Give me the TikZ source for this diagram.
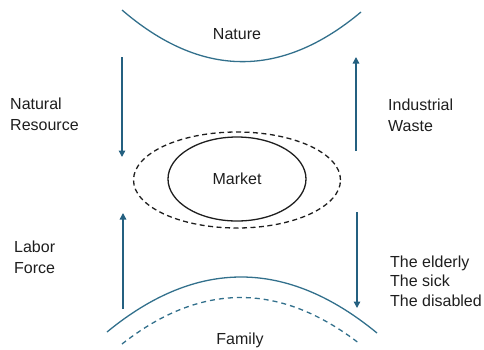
\documentclass[tikz,border=0pt]{standalone}
\usepackage{fontspec}
\setmainfont{Liberation Sans}
\usetikzlibrary{shapes.geometric,arrows.meta}
\definecolor{flow}{RGB}{36,96,128}
\definecolor{arcc}{RGB}{50,112,140}
\definecolor{ink}{RGB}{30,30,30}
\tikzset{
  lbl/.style={anchor=west,align=left,font=\fontsize{16}{21}\selectfont,text=ink,inner sep=0pt},
  ttl/.style={font=\fontsize{16}{21}\selectfont,text=ink,inner sep=0pt},
  flowarrow/.style={draw=flow,line width=1.4pt,-{Triangle[width=6.5pt,length=6.5pt]}},
  arcline/.style={draw=arcc,line width=1.3pt},
  mkt/.style={ellipse,draw=ink,line width=1.3pt,inner sep=0pt},
}
\begin{document}
\begin{tikzpicture}[x=1pt,y=-1pt]
\useasboundingbox (0,0) rectangle (484,349);
% top arc (Nature)
\draw[arcline] (122,10) .. controls (201,78) and (281,79) .. (361,12);
\node[ttl] (nature) at (237,34) {Nature};
% bottom arcs (Family)
\draw[arcline] (107,332) .. controls (197,258) and (287,259) .. (377,333);
\draw[arcline,dash pattern=on 5pt off 4pt] (122,344) .. controls (201,282) and (280,282) .. (360,344);
\node[ttl] (family) at (240,340) {Family};
% market
\node[mkt,dashed,dash pattern=on 5pt off 3.5pt,minimum width=207,minimum height=96] (outer) at (237,180) {};
\node[mkt,minimum width=138,minimum height=84,font=\fontsize{16}{21}\selectfont,text=ink] (market) at (237,179) {Market};
% arrow endpoints
\coordinate (nrTop) at (122,57);
\coordinate (nrBot) at (122,157);
\coordinate (iwBot) at (356,151);
\coordinate (iwTop) at (356,57);
\coordinate (lfBot) at (123,309);
\coordinate (lfTop) at (123,213);
\coordinate (elTop) at (357,212);
\coordinate (elBot) at (357,308);
\draw[flowarrow] (nrTop) -- (nrBot);
\draw[flowarrow] (iwBot) -- (iwTop);
\draw[flowarrow] (lfBot) -- (lfTop);
\draw[flowarrow] (elTop) -- (elBot);
% labels
\node[lbl] (natres) at (10,114) {Natural\\Resource};
\node[lbl] (indw) at (388,115) {Industrial\\Waste};
\node[lbl] (labor) at (14,257) {Labor\\Force};
\node[lbl,font=\fontsize{16}{19.5}\selectfont] (vuln) at (390,281) {The elderly\\The sick\\The disabled};
\end{tikzpicture}
\end{document}
